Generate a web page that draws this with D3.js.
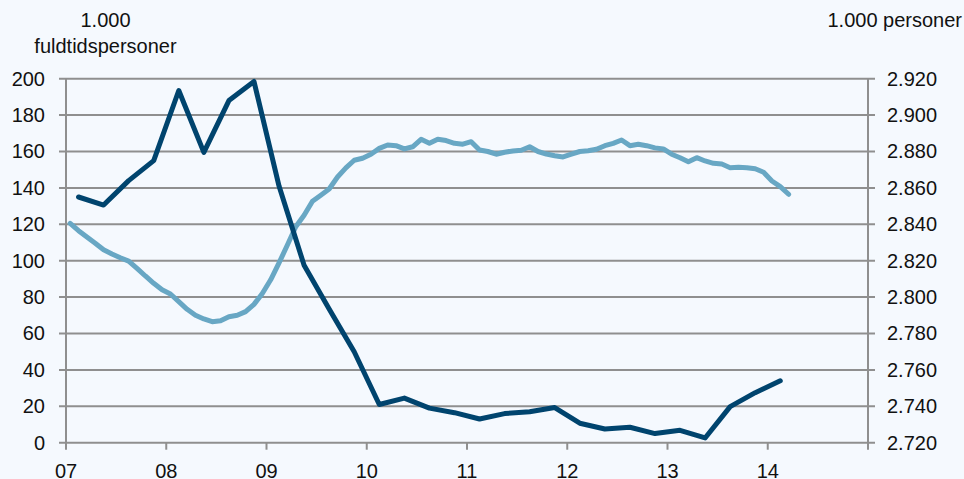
<!DOCTYPE html>
<html>
<head>
<meta charset="utf-8">
<script src="https://cdn.jsdelivr.net/npm/d3@7"></script>
<style>
  html, body { margin: 0; padding: 0; background: #f5f9fe; }
  svg { display: block; font-family: "Liberation Sans", Arial, sans-serif; }
</style>
</head>
<body>
<svg id="chart" width="964" height="479"></svg>
<script>
// Left axis: 1.000 fuldtidspersoner, quarterly 2007Q1 - 2014Q1
const quarterlyValues = [
    135, 130.6, 144, 155,
    193.5, 159.5, 188, 198.5,
    141, 97.5, 73.5, 50,
    21, 24.5, 19, 16.5,
    13, 16, 17, 19.3,
    10.7, 7.5, 8.5, 5,
    6.8, 2.6, 19.8, 27.5,
    34
];

// Right axis: 1.000 personer, monthly Jan 2007 - Mar 2014
const monthlyValues = [
    2840.5, 2836.5, 2833, 2829.6, 2826, 2823.7, 2821.6, 2819.8, 2815.8, 2811.6, 2807.6, 2804,
    2801.7, 2797.5, 2793.3, 2790, 2788, 2786.5, 2787, 2789.2, 2790, 2792, 2796, 2802,
    2809.5, 2818.8, 2828.6, 2838.7, 2845, 2852.7, 2856, 2859.4, 2866, 2871, 2875.2, 2876.3,
    2878.5, 2881.7, 2883.6, 2883.2, 2881.4, 2882.6, 2886.7, 2884.5, 2886.7, 2886, 2884.5, 2884,
    2885.4, 2880.8, 2880, 2878.5, 2879.6, 2880.3, 2880.7, 2882.6, 2880, 2878.6, 2877.7, 2877,
    2878.5, 2880, 2880.4, 2881.2, 2883.2, 2884.5, 2886.3, 2883.2, 2884, 2883.2, 2882, 2881.4,
    2878.5, 2876.6, 2874.4, 2876.6, 2874.8, 2873.5, 2873.1, 2871.1, 2871.3, 2871.1, 2870.5, 2868.6,
    2863.8, 2860.7, 2856.5
];

const yearTicks = [2007, 2008, 2009, 2010, 2011, 2012, 2013, 2014, 2015];
const yearLabels = ['07', '08', '09', '10', '11', '12', '13', '14'];
const leftTicks = [0, 20, 40, 60, 80, 100, 120, 140, 160, 180, 200];
const rightTicks = [2720, 2740, 2760, 2780, 2800, 2820, 2840, 2860, 2880, 2900, 2920];

const svg = d3.select('#chart');
const margin = { left: 66, right: 964 - 868, top: 78.7, bottom: 479 - 442.7 };
const width = 964 - margin.left - margin.right;
const height = 479 - margin.top - margin.bottom;

const g = svg.append('g').attr('transform', `translate(${margin.left},${margin.top})`);

const x = d3.scaleLinear().domain([2007, 2015]).range([0, width]);
const yLeft = d3.scaleLinear().domain([0, 200]).range([height, 0]);
const yRight = d3.scaleLinear().domain([2720, 2920]).range([height, 0]);

const gridColor = '#8f8f8f';
const fontSize = 20;

// horizontal gridlines (extend out as ticks on both sides)
g.selectAll('line.grid')
    .data(leftTicks)
    .join('line')
    .attr('class', 'grid')
    .attr('x1', -7)
    .attr('x2', width + 7)
    .attr('y1', d => yLeft(d))
    .attr('y2', d => yLeft(d))
    .attr('stroke', gridColor)
    .attr('stroke-width', 2);

// vertical axis lines
g.append('line').attr('x1', 0).attr('x2', 0).attr('y1', 0).attr('y2', height)
    .attr('stroke', gridColor).attr('stroke-width', 2);
g.append('line').attr('x1', width).attr('x2', width).attr('y1', 0).attr('y2', height)
    .attr('stroke', gridColor).attr('stroke-width', 2);

// bottom ticks
g.selectAll('line.xtick')
    .data(yearTicks)
    .join('line')
    .attr('class', 'xtick')
    .attr('x1', d => x(d))
    .attr('x2', d => x(d))
    .attr('y1', height)
    .attr('y2', height + 7)
    .attr('stroke', gridColor)
    .attr('stroke-width', 2);

// bottom labels
g.selectAll('text.xlabel')
    .data(yearLabels)
    .join('text')
    .attr('class', 'xlabel')
    .attr('x', (d, i) => x(yearTicks[i]))
    .attr('y', height + 35)
    .attr('text-anchor', 'middle')
    .style('font-size', fontSize + 'px')
    .attr('fill', '#111')
    .text(d => d);

// left labels
g.selectAll('text.ylabel')
    .data(leftTicks)
    .join('text')
    .attr('class', 'ylabel')
    .attr('x', -21)
    .attr('y', d => yLeft(d))
    .attr('dy', '0.35em')
    .attr('text-anchor', 'end')
    .style('font-size', fontSize + 'px')
    .attr('fill', '#111')
    .text(d => d);

// right labels (Danish thousands separator)
const fmtRight = v => d3.format(',')(v).replace(',', '.');
g.selectAll('text.rlabel')
    .data(rightTicks)
    .join('text')
    .attr('class', 'rlabel')
    .attr('x', width + 19)
    .attr('y', d => yRight(d))
    .attr('dy', '0.35em')
    .attr('text-anchor', 'start')
    .style('font-size', fontSize + 'px')
    .attr('fill', '#111')
    .text(d => fmtRight(d));

// light line: monthly, right axis
const monthLine = d3.line()
    .x((d, i) => x(2007 + (i + 0.5) / 12))
    .y(d => yRight(d));

g.append('path')
    .datum(monthlyValues)
    .attr('d', monthLine)
    .attr('fill', 'none')
    .attr('stroke', '#68a7c4')
    .attr('stroke-width', 5)
    .attr('stroke-linejoin', 'round')
    .attr('stroke-linecap', 'round');

// dark line: quarterly, left axis
const quarterLine = d3.line()
    .x((d, i) => x(2007 + (i + 0.5) / 4))
    .y(d => yLeft(d));

g.append('path')
    .datum(quarterlyValues)
    .attr('d', quarterLine)
    .attr('fill', 'none')
    .attr('stroke', '#00446e')
    .attr('stroke-width', 5)
    .attr('stroke-linejoin', 'round')
    .attr('stroke-linecap', 'round');

// axis titles
svg.append('text')
    .attr('x', 105.5).attr('y', 27.3)
    .attr('text-anchor', 'middle')
    .style('font-size', fontSize + 'px')
    .attr('fill', '#111')
    .text('1.000');
svg.append('text')
    .attr('x', 105.5).attr('y', 52.7)
    .attr('text-anchor', 'middle')
    .style('font-size', fontSize + 'px')
    .attr('fill', '#111')
    .text('fuldtidspersoner');
svg.append('text')
    .attr('x', 962).attr('y', 27.3)
    .attr('text-anchor', 'end')
    .style('font-size', fontSize + 'px')
    .attr('fill', '#111')
    .text('1.000 personer');
</script>
</body>
</html>
